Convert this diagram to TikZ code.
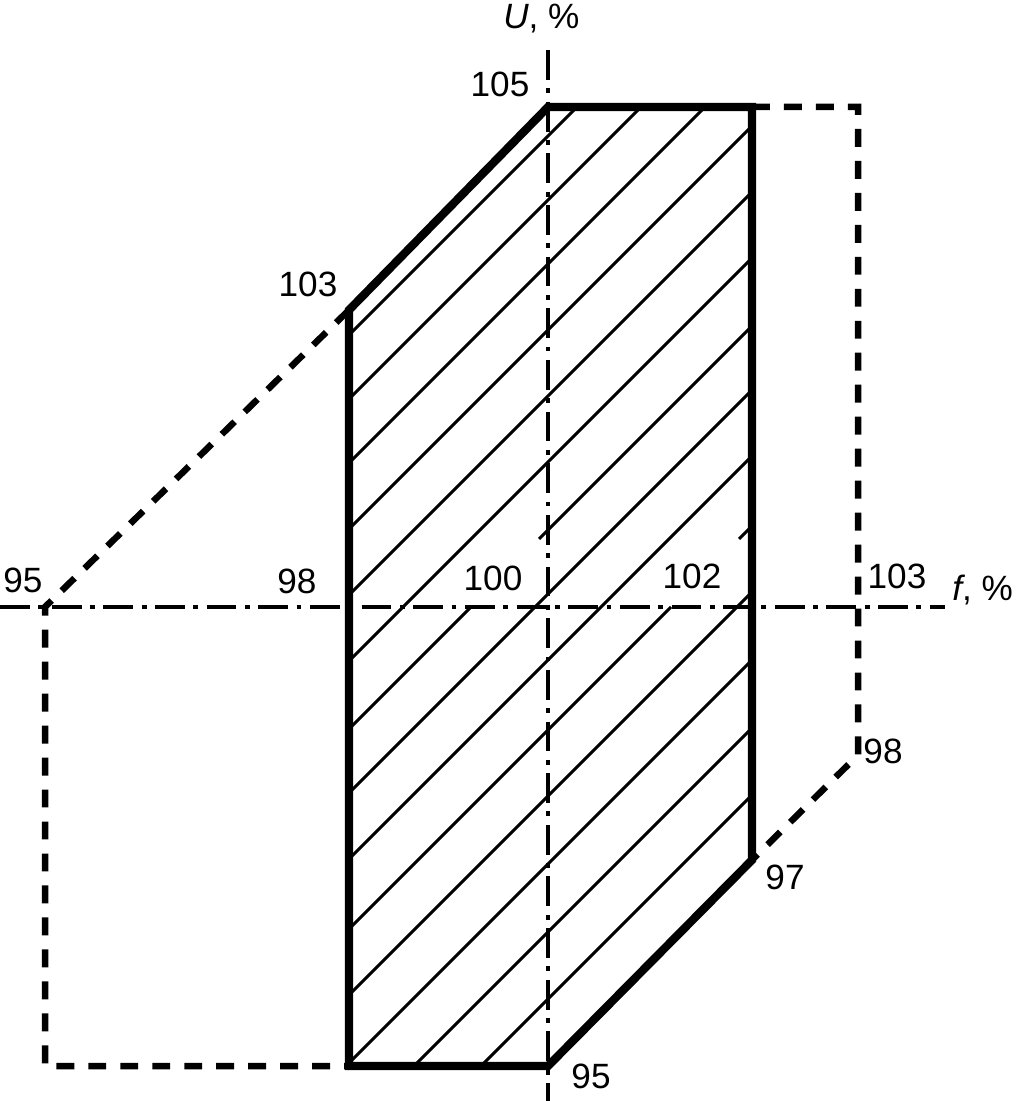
\documentclass[tikz,border=0pt]{standalone}
\usepackage{fontspec}
\setmainfont{Liberation Sans}
\tikzset{
  axisline/.style={line width=2.2pt, dash pattern=on 17pt off 4.8pt on 2.8pt off 4.8pt},
  boundary/.style={line width=4.7pt, line join=miter},
  limit/.style={line width=3.7pt, dash pattern=on 10.2pt off 8pt},
  hatch/.style={line width=1.7pt},
  tick/.style={inner sep=0pt, font=\fontsize{20}{24}\selectfont},
}
\begin{document}
\begin{tikzpicture}[x=0.02cm, y=-0.02cm]
            \useasboundingbox (0,0) rectangle (1018,1101);

            \coordinate (A) at (349, 310);
            \coordinate (B) at (548, 107);
            \coordinate (C) at (752, 107);
            \coordinate (D) at (752, 860);
            \coordinate (E) at (548, 1066);
            \coordinate (F) at (349, 1066);
            \coordinate (G) at (45, 607);
            \coordinate (H) at (45, 1066);
            \coordinate (K) at (858, 107);
            \coordinate (L) at (858, 755);

            \coordinate (fmin) at (0, 607);
            \coordinate (fmax) at (945, 607);
            \coordinate (umax) at (548, 50);
            \coordinate (umin) at (548, 1101);

            \begin{scope}
                \clip (A) -- (B) -- (C) -- (D) -- (E) -- (F) -- cycle;
                \foreach \c in {684,748,812,878,944,1010,1142,1208,1344,1412,1480,1547}
                    \draw[hatch] (\c-1100, 1100) -- (\c, 0);
                \draw[hatch] (-22, 1100) -- (471, 607) (539, 539) -- (1078, 0);
                \draw[hatch] (178, 1100) -- (671, 607) (739, 539) -- (1278, 0);
            \end{scope}

            \draw[limit] (A) -- (G) -- (H) -- (F);
            \draw[limit] (C) -- (K) -- (L) -- (D);

            \draw[axisline] (fmin) -- (fmax);
            \draw[axisline] (umax) -- (umin);

            \draw[boundary] (A) -- (B) -- (C) -- (D) -- (E) -- (F) -- cycle;

            \node[tick, anchor=base west] (ulabel) at (503, 29) {\textit{U}, \%};
            \node[tick, anchor=base west] (flabel) at (952, 600) {\textit{f}, \%};

            \node[tick] (u105) at (500, 84) {105};
            \node[tick] (u103) at (308, 284) {103};
            \node[tick] (u98) at (883, 751) {98};
            \node[tick] (u97) at (785, 877) {97};
            \node[tick] (u95) at (591, 1076) {95};

            \node[tick] (f95) at (23, 580) {95};
            \node[tick] (f98) at (297, 581) {98};
            \node[tick] (f100) at (493, 578) {100};
            \node[tick] (f102) at (692, 576) {102};
            \node[tick] (f103) at (897, 576) {103};
        \end{tikzpicture}
\end{document}
